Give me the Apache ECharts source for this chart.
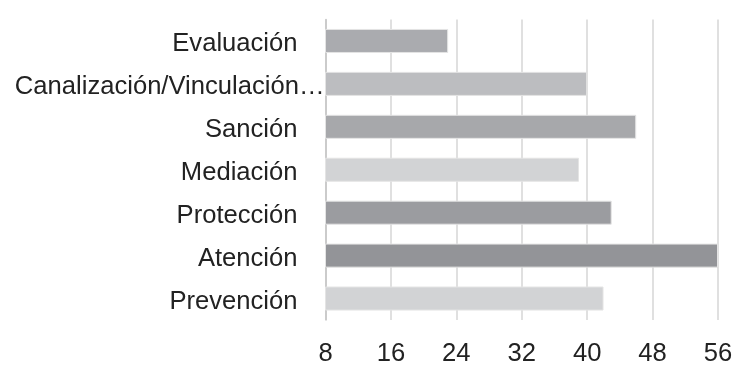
<!DOCTYPE html>
<html>
<head>
<meta charset="utf-8">
<script src="https://cdn.jsdelivr.net/npm/echarts@6/dist/echarts.min.js"></script>
<style>
html,body{margin:0;padding:0;background:#fff;}
#c{width:737px;height:371px;}
</style>
</head>
<body>
<div id="c"></div>
<script>
var categories = ['Evaluación', 'Canalización/Vinculación…', 'Sanción', 'Mediación', 'Protección', 'Atención', 'Prevención'];
var values = [23, 40, 46, 39, 43, 56, 42];
var barColors = ['#aaabaf', '#bcbdc0', '#a7a8ab', '#d2d3d5', '#9b9ca0', '#939498', '#d2d3d5'];
var xTicks = [8, 16, 24, 32, 40, 48, 56];

var chart = echarts.init(document.getElementById('c'), null, {renderer: 'canvas'});
var font = '"Liberation Sans", Arial, Helvetica, sans-serif';
var fs = 25.6;
chart.setOption({
  animation: false,
  backgroundColor: '#ffffff',
  grid: {left: 325.5, right: 19, top: 19.5, bottom: 51, containLabel: false},
  xAxis: {
    type: 'value',
    min: xTicks[0],
    max: xTicks[xTicks.length - 1],
    interval: xTicks[1] - xTicks[0],
    axisLine: {show: false},
    axisTick: {show: false},
    splitLine: {show: true, lineStyle: {color: '#d6d6d6', width: 1.5}},
    axisLabel: {color: '#222222', fontSize: fs, fontFamily: font, margin: 21}
  },
  yAxis: {
    type: 'category',
    inverse: true,
    data: categories,
    axisLine: {show: true, lineStyle: {color: '#c4c4c4', width: 1.5}},
    axisTick: {show: false},
    axisLabel: {
      color: '#222222', fontSize: fs, fontFamily: font, margin: 1,
      formatter: function (v) {
        return v.indexOf('…') >= 0 ? '{b|' + v + '}' : '{a|' + v + '}';
      },
      rich: {
        a: {fontSize: fs, fontFamily: font, color: '#222222', padding: [6, 27, 0, 0]},
        b: {fontSize: fs, fontFamily: font, color: '#222222', padding: [6, 0, 0, 0]}
      }
    }
  },
  series: [{
    type: 'bar',
    barCategoryGap: '44%',
    data: values.map(function (v, i) {
      return {value: v, itemStyle: {color: barColors[i]}};
    }),
    itemStyle: {borderColor: '#e4e4e4', borderWidth: 1}
  }]
});
</script>
</body>
</html>
